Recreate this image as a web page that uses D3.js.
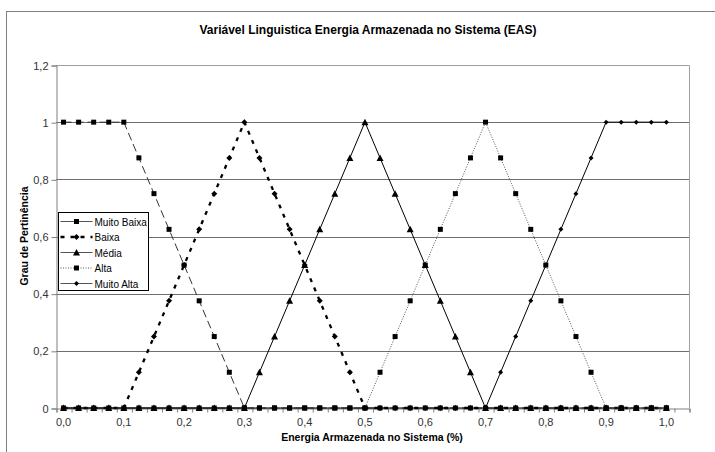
<!DOCTYPE html>
<html>
<head>
<meta charset="utf-8">
<script src="https://cdn.jsdelivr.net/npm/d3@7/dist/d3.min.js"></script>
<style>
  html, body { margin: 0; padding: 0; background: #fff; }
  svg { display: block; font-family: "Liberation Sans", Arial, sans-serif; }
</style>
</head>
<body>
<svg id="chart" width="715" height="452"></svg>
<script>
// Energy categories (fraction of stored energy), one point every 0,025
const xCategories = [
  0.000, 0.025, 0.050, 0.075, 0.100, 0.125, 0.150, 0.175, 0.200, 0.225,
  0.250, 0.275, 0.300, 0.325, 0.350, 0.375, 0.400, 0.425, 0.450, 0.475,
  0.500, 0.525, 0.550, 0.575, 0.600, 0.625, 0.650, 0.675, 0.700, 0.725,
  0.750, 0.775, 0.800, 0.825, 0.850, 0.875, 0.900, 0.925, 0.950, 0.975,
  1.000
];

// Membership degrees of each linguistic term
const muitoBaixa = [
  1, 1, 1, 1, 1, 0.875, 0.75, 0.625, 0.5, 0.375,
  0.25, 0.125, 0, 0, 0, 0, 0, 0, 0, 0,
  0, 0, 0, 0, 0, 0, 0, 0, 0, 0,
  0, 0, 0, 0, 0, 0, 0, 0, 0, 0,
  0
];
const baixa = [
  0, 0, 0, 0, 0, 0.125, 0.25, 0.375, 0.5, 0.625,
  0.75, 0.875, 1, 0.875, 0.75, 0.625, 0.5, 0.375, 0.25, 0.125,
  0, 0, 0, 0, 0, 0, 0, 0, 0, 0,
  0, 0, 0, 0, 0, 0, 0, 0, 0, 0,
  0
];
const media = [
  0, 0, 0, 0, 0, 0, 0, 0, 0, 0,
  0, 0, 0, 0.125, 0.25, 0.375, 0.5, 0.625, 0.75, 0.875,
  1, 0.875, 0.75, 0.625, 0.5, 0.375, 0.25, 0.125, 0, 0,
  0, 0, 0, 0, 0, 0, 0, 0, 0, 0,
  0
];
const alta = [
  0, 0, 0, 0, 0, 0, 0, 0, 0, 0,
  0, 0, 0, 0, 0, 0, 0, 0, 0, 0,
  0, 0.125, 0.25, 0.375, 0.5, 0.625, 0.75, 0.875, 1, 0.875,
  0.75, 0.625, 0.5, 0.375, 0.25, 0.125, 0, 0, 0, 0,
  0
];
const muitoAlta = [
  0, 0, 0, 0, 0, 0, 0, 0, 0, 0,
  0, 0, 0, 0, 0, 0, 0, 0, 0, 0,
  0, 0, 0, 0, 0, 0, 0, 0, 0, 0.125,
  0.25, 0.375, 0.5, 0.625, 0.75, 0.875, 1, 1, 1, 1,
  1
];

const seriesNames = ["Muito Baixa", "Baixa", "Média", "Alta", "Muito Alta"];
const yTicks = [0, 0.2, 0.4, 0.6, 0.8, 1, 1.2];
const xTickLabels = ["0,0", "0,1", "0,2", "0,3", "0,4", "0,5", "0,6", "0,7", "0,8", "0,9", "1,0"];

const titleText = "Variável Linguistica Energia Armazenada no Sistema (EAS)";
const xTitleText = "Energia Armazenada no Sistema (%)";
const yTitleText = "Grau de Pertinência";

// Drawing styles per series
const styles = [
  { values: muitoBaixa, stroke: "#333", width: 1,   dash: "8,4",   marker: "square",   size: 5 },
  { values: baixa,      stroke: "#000", width: 2.3, dash: "4,6",   marker: "diamond",  size: 6 },
  { values: media,      stroke: "#000", width: 1,   dash: null,    marker: "triangle", size: 6 },
  { values: alta,       stroke: "#555", width: 1,   dash: "1,1.5", marker: "square",   size: 5 },
  { values: muitoAlta,  stroke: "#000", width: 1,   dash: null,    marker: "diamond",  size: 5 }
];

const svg = d3.select("#chart");
const plot = { left: 56, right: 689, top: 65, bottom: 408 };
const nSlots = xCategories.length + 1; // category axis leaves one empty slot at the end

const x = d3.scaleLinear().domain([-0.5, nSlots - 0.5]).range([plot.left, plot.right]);
const y = d3.scaleLinear().domain([0, 1.2]).range([plot.bottom, plot.top]);

// Outer chart frame
svg.append("rect")
  .attr("x", 6.5).attr("y", 11.5).attr("width", 740).attr("height", 460)
  .attr("fill", "none").attr("stroke", "#808080").attr("stroke-width", 1);

// Horizontal gridlines
svg.append("g")
  .selectAll("line")
  .data(yTicks.filter(t => t > 0 && t < 1.2))
  .join("line")
  .attr("x1", plot.left).attr("x2", plot.right)
  .attr("y1", d => Math.round(y(d)) + 0.5).attr("y2", d => Math.round(y(d)) + 0.5)
  .attr("stroke", "#6e6e6e").attr("stroke-width", 1);

// Plot area border (top/right)
svg.append("path")
  .attr("d", `M${plot.left},${Math.round(y(1.2)) + 0.5}H${plot.right + 0.5}V${plot.bottom}`)
  .attr("fill", "none").attr("stroke", "#a0a0a0").attr("stroke-width", 1);

// Y axis
const yAxis = d3.axisLeft(y)
  .tickValues(yTicks)
  .tickSize(5)
  .tickPadding(3)
  .tickFormat(d => d3.format(".1f")(d).replace(/\.0$/, "").replace(".", ","));
const yG = svg.append("g")
  .attr("transform", `translate(${plot.left + 0.5},0.5)`)
  .call(yAxis);
yG.select(".domain").attr("stroke", "#808080");
yG.selectAll(".tick line").attr("stroke", "#808080");
yG.selectAll(".tick text").attr("font-size", 11).attr("fill", "#333")
  .attr("font-family", "'Liberation Sans', Arial, sans-serif");

// X axis: minor ticks at category boundaries, labels every 4 categories
const boundaryTicks = d3.range(nSlots + 1).map(i => i - 0.5);
const xAxis = d3.axisBottom(x)
  .tickValues(boundaryTicks)
  .tickSize(4)
  .tickFormat("");
const xG = svg.append("g")
  .attr("transform", `translate(0.5,${Math.round(y(0)) + 0.5})`)
  .call(xAxis);
xG.select(".domain").attr("stroke", "#808080");
xG.selectAll(".tick line").attr("stroke", "#808080");

svg.append("g")
  .selectAll("text")
  .data(xTickLabels)
  .join("text")
  .attr("x", (d, i) => x(i * 4))
  .attr("y", 426)
  .attr("text-anchor", "middle")
  .attr("font-size", 11)
  .attr("fill", "#333")
  .text(d => d);

// Series lines and markers
const line = d3.line()
  .x((d, i) => x(i))
  .y(d => y(d));

const markerPath = (type, s) => {
  const h = s / 2;
  if (type === "square") return `M${-h},${-h}h${s}v${s}h${-s}Z`;
  if (type === "diamond") return `M0,${-h}L${h},0L0,${h}L${-h},0Z`;
  return `M0,${-h - 0.5}L${h + 0.5},${h}L${-h - 0.5},${h}Z`;
};

styles.forEach(st => {
  svg.append("path")
    .datum(st.values)
    .attr("d", line)
    .attr("fill", "none")
    .attr("stroke", st.stroke)
    .attr("stroke-width", st.width)
    .attr("stroke-dasharray", st.dash);
});
styles.forEach(st => {
  svg.append("g")
    .selectAll("path")
    .data(st.values)
    .join("path")
    .attr("transform", (d, i) => `translate(${x(i)},${y(d)})`)
    .attr("d", markerPath(st.marker, st.size))
    .attr("fill", "#000");
});

// Legend
const legend = svg.append("g").attr("transform", "translate(58.5,212.5)");
legend.append("rect")
  .attr("width", 90).attr("height", 78)
  .attr("fill", "#fff").attr("stroke", "#000").attr("stroke-width", 1);
seriesNames.forEach((name, k) => {
  const st = styles[k];
  const ly = 9 + k * 15.5;
  legend.append("line")
    .attr("x1", 2).attr("x2", 34).attr("y1", ly).attr("y2", ly)
    .attr("stroke", k === 1 ? "#000" : "#555")
    .attr("stroke-width", st.width)
    .attr("stroke-dasharray", k === 1 ? "4,6" : (k === 3 ? "1,1.5" : null));
  legend.append("path")
    .attr("transform", `translate(18,${ly})`)
    .attr("d", markerPath(st.marker, st.size))
    .attr("fill", "#000");
  legend.append("text")
    .attr("x", 36).attr("y", ly + 4)
    .attr("font-size", 10).attr("fill", "#000")
    .text(name);
});

// Titles
svg.append("text")
  .attr("x", 368).attr("y", 34)
  .attr("text-anchor", "middle")
  .attr("font-size", 12).attr("font-weight", "bold")
  .text(titleText);
svg.append("text")
  .attr("x", 372).attr("y", 441)
  .attr("text-anchor", "middle")
  .attr("font-size", 10.5).attr("font-weight", "bold")
  .text(xTitleText);
svg.append("text")
  .attr("transform", "translate(28,236) rotate(-90)")
  .attr("text-anchor", "middle")
  .attr("font-size", 10.5).attr("font-weight", "bold")
  .text(yTitleText);
</script>
</body>
</html>
